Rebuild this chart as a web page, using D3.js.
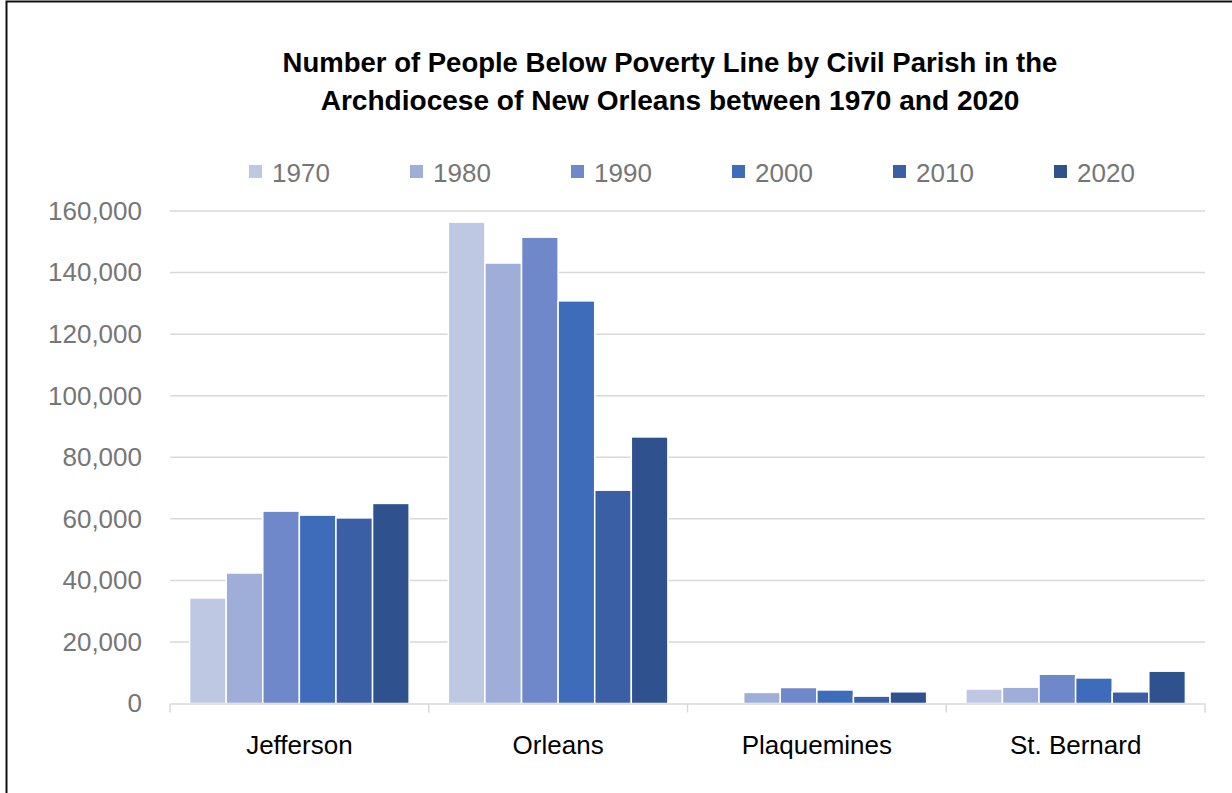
<!DOCTYPE html>
<html>
<head>
<meta charset="utf-8">
<script src="https://d3js.org/d3.v7.min.js"></script>
<style>
  body { margin: 0; background: #fff; }
  svg { display: block; font-family: "Liberation Sans", Arial, sans-serif; }
</style>
</head>
<body>
<svg width="1232" height="793"></svg>
<script>
  // data
  var parishes = ["Jefferson", "Orleans", "Plaquemines", "St. Bernard"];
  var years = ["1970", "1980", "1990", "2000", "2010", "2020"];
  var jefferson = [34300, 42400, 62500, 61200, 60300, 65000];
  var orleans = [156400, 143100, 151500, 130800, 69300, 86600];
  var plaquemines = [0, 3600, 5200, 4400, 2400, 3800];
  var stBernard = [4700, 5300, 9500, 8300, 3800, 10500];
  var yTicks = [0, 20000, 40000, 60000, 80000, 100000, 120000, 140000, 160000];
  var colors = ["#bec8e3", "#9eaed8", "#6e88ca", "#3e6cba", "#3a5fa5", "#2f528f"];
  var titleLines = ["Number of People Below Poverty Line by Civil Parish in the",
                    "Archdiocese of New Orleans between 1970 and 2020"];

  var rows = [jefferson, orleans, plaquemines, stBernard];
  var data = parishes.map(function(p, i) {
    return { parish: p, values: rows[i] };
  });

  var svg = d3.select("svg");

  // outer border (runs off the right and bottom edges in the reference)
  svg.append("rect")
    .attr("x", 6.5).attr("y", 1.5)
    .attr("width", 1240).attr("height", 820)
    .attr("fill", "#fff")
    .attr("stroke", "#111")
    .attr("stroke-width", 2);

  var plotLeft = 170, plotRight = 1205, plotTop = 211, plotBottom = 703.5;

  var x0 = d3.scaleBand().domain(parishes).range([plotLeft, plotRight]).padding(0);
  var inner = 19.6;
  var x1 = d3.scaleBand().domain(years)
    .range([inner, x0.bandwidth() - inner]).padding(0);
  var y = d3.scaleLinear().domain([0, 160000]).range([plotBottom, plotTop]);
  var color = d3.scaleOrdinal().domain(years).range(colors);

  // title, shrunk to the width of the original lines
  var titleWidths = [775, 699];
  titleLines.forEach(function(t, i) {
    var txt = svg.append("text")
      .attr("x", 670)
      .attr("y", 72 + i * 38)
      .attr("text-anchor", "middle")
      .attr("font-weight", "bold")
      .attr("font-size", 26)
      .attr("fill", "#000")
      .text(t);
    var w = txt.node().getComputedTextLength();
    txt.attr("font-size", 26 * titleWidths[i] / w);
  });

  // gridlines
  svg.append("g")
    .selectAll("line")
    .data(yTicks.filter(function(d) { return d > 0; }))
    .enter()
    .append("line")
    .attr("x1", plotLeft).attr("x2", plotRight)
    .attr("y1", function(d) { return y(d); })
    .attr("y2", function(d) { return y(d); })
    .attr("stroke", "#d9d9d9")
    .attr("stroke-width", 1.5);

  // y axis labels
  var yAxis = svg.append("g")
    .attr("transform", "translate(" + plotLeft + ",0)")
    .call(d3.axisLeft(y).tickValues(yTicks).tickSize(0).tickPadding(28)
      .tickFormat(d3.format(",")));
  yAxis.select(".domain").remove();
  yAxis.selectAll("text")
    .attr("font-family", "Liberation Sans, Arial, sans-serif")
    .attr("font-size", 26)
    .attr("fill", "#767676");

  // bars
  var groups = svg.append("g")
    .selectAll("g")
    .data(data)
    .enter()
    .append("g")
    .attr("transform", function(d) { return "translate(" + x0(d.parish) + ",0)"; });

  groups.selectAll("rect")
    .data(function(d) {
      return d.values.map(function(v, i) { return { year: years[i], value: v }; });
    })
    .enter()
    .append("rect")
    .attr("x", function(d) { return x1(d.year); })
    .attr("width", x1.bandwidth())
    .attr("y", function(d) { return y(d.value); })
    .attr("height", function(d) { return plotBottom - y(d.value); })
    .attr("fill", function(d) { return color(d.year); })
    .attr("stroke", "#fff")
    .attr("stroke-width", function(d) { return d.value > 0 ? 1.5 : 0; });

  // x axis
  var xAxis = svg.append("g")
    .attr("transform", "translate(0," + plotBottom + ")")
    .call(d3.axisBottom(x0).tickSize(0).tickPadding(32));
  xAxis.select(".domain")
    .attr("stroke", "#d9d9d9")
    .attr("stroke-width", 1.5);
  xAxis.selectAll("text")
    .attr("font-family", "Liberation Sans, Arial, sans-serif")
    .attr("font-size", 26)
    .attr("fill", "#000");

  // category separators on the axis
  var seps = parishes.map(function(p) { return x0(p); }).concat([plotRight]);
  svg.append("g")
    .selectAll("line")
    .data(seps)
    .enter()
    .append("line")
    .attr("x1", function(d) { return d; })
    .attr("x2", function(d) { return d; })
    .attr("y1", plotBottom)
    .attr("y2", plotBottom + 9)
    .attr("stroke", "#d9d9d9")
    .attr("stroke-width", 1.5);

  // legend
  var legend = svg.append("g")
    .selectAll("g")
    .data(years)
    .enter()
    .append("g")
    .attr("transform", function(d, i) { return "translate(" + (249 + i * 161) + ",165)"; });

  legend.append("rect")
    .attr("width", 13)
    .attr("height", 13)
    .attr("fill", function(d) { return color(d); });

  legend.append("text")
    .attr("x", 23)
    .attr("y", 17)
    .attr("font-size", 26)
    .attr("fill", "#767676")
    .text(function(d) { return d; });
</script>
</body>
</html>
